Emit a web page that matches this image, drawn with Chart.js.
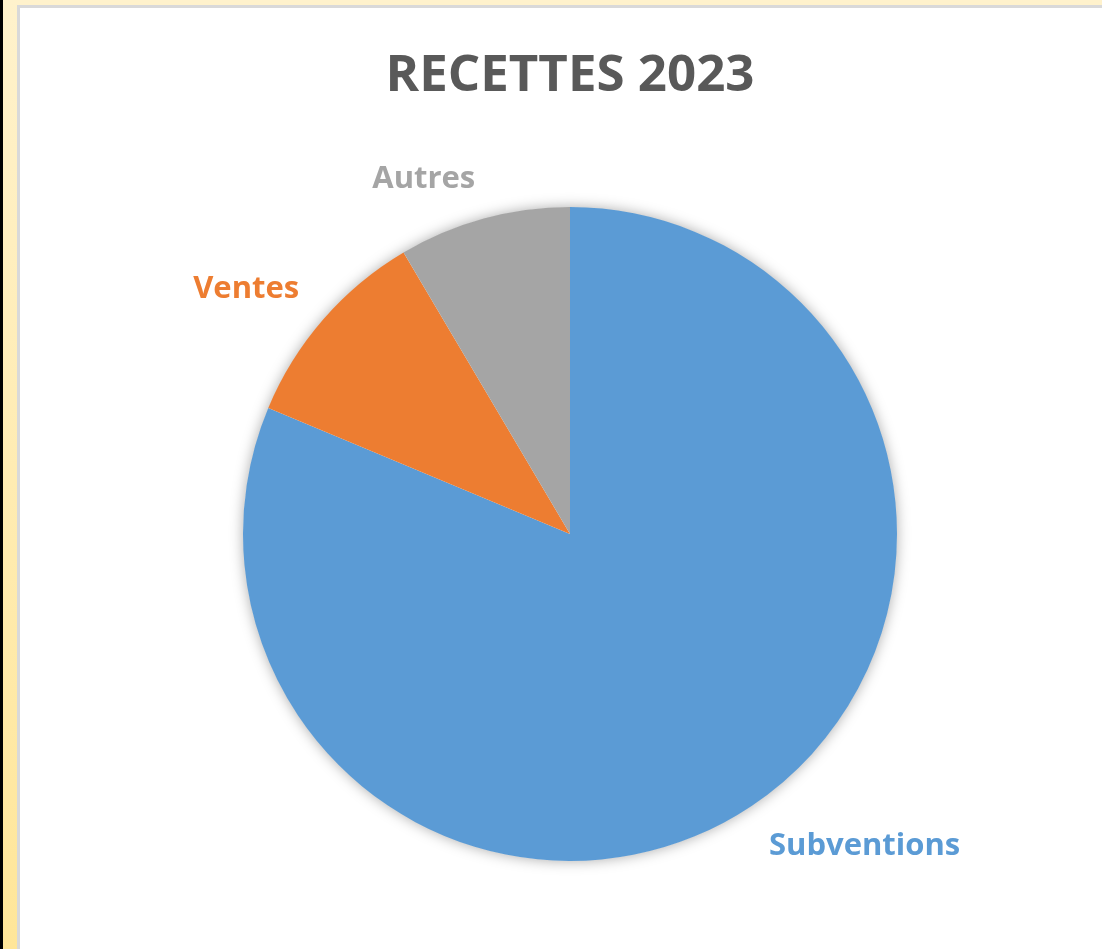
<!DOCTYPE html>
<html>
<head>
<meta charset="utf-8">
<script src="https://cdn.jsdelivr.net/npm/chart.js@4.4.0/dist/chart.umd.min.js"></script>
<style>
  html, body { margin: 0; padding: 0; width: 1102px; height: 949px; overflow: hidden; background: #ffffff; }
  #frame { position: absolute; left: 0; top: 0; width: 1102px; height: 949px; background: #FFF2CC; }
  #blackstrip { position: absolute; left: 0; top: 0; width: 3px; height: 949px; background: #000; }
  #yellowstrip { position: absolute; left: 3px; top: 0; width: 14px; height: 949px; background: linear-gradient(#FFF2CC, #FFE699); }
  #border { position: absolute; left: 17px; top: 5px; width: 1085px; height: 944px; background: #D9D9D9; }
  #box { position: absolute; left: 20px; top: 8px; width: 1082px; height: 941px; background: #ffffff; }
  canvas { display: block; }
</style>
</head>
<body>
<div id="frame"></div>
<div id="blackstrip"></div>
<div id="yellowstrip"></div>
<div id="border"></div>
<div id="box"><canvas id="c" width="1082" height="941"></canvas></div>
<script>
const chartTitle = "RECETTES 2023";
const categories = ["Subventions", "Ventes", "Autres"];
const values = [81.3, 10.2, 8.5];
const colors = ["#5B9BD5", "#ED7D31", "#A5A5A5"];

const LABEL_FONT = 31;

const shadowPlugin = {
  id: 'pieShadow',
  beforeDatasetsDraw(chart) {
    const arc = chart.getDatasetMeta(0).data[0];
    if (!arc) return;
    const ctx = chart.ctx;
    ctx.save();
    ctx.shadowColor = 'rgba(0,0,0,0.35)';
    ctx.shadowBlur = 14;
    ctx.shadowOffsetX = 0;
    ctx.shadowOffsetY = 0;
    ctx.beginPath();
    ctx.arc(arc.x, arc.y, arc.outerRadius - 0.5, 0, Math.PI * 2);
    ctx.fillStyle = '#ffffff';
    ctx.fill();
    ctx.restore();
  }
};

const outsideLabels = {
  id: 'outsideLabels',
  afterDatasetsDraw(chart) {
    const ctx = chart.ctx;
    const meta = chart.getDatasetMeta(0);
    ctx.save();
    ctx.font = 'bold ' + LABEL_FONT + 'px "Open Sans", sans-serif';
    ctx.textBaseline = 'alphabetic';
    meta.data.forEach((arc, i) => {
      const mid = (arc.startAngle + arc.endAngle) / 2;
      const rr = arc.outerRadius + 32;
      const cx = Math.cos(mid), sy = Math.sin(mid);
      const ax = arc.x + rr * cx;
      const ay = arc.y + rr * sy;
      ctx.textAlign = cx >= 0 ? 'left' : 'right';
      const y = sy >= 0 ? ay + LABEL_FONT * 0.72 : ay;
      ctx.fillStyle = colors[i];
      ctx.fillText(categories[i], ax, y);
    });
    ctx.restore();
  }
};

new Chart(document.getElementById('c'), {
  type: 'pie',
  data: {
    labels: categories,
    datasets: [{
      data: values,
      backgroundColor: colors,
      borderWidth: 0,
      hoverOffset: 0,
      offset: 0
    }]
  },
  options: {
    responsive: false,
    animation: false,
    events: [],
    layout: { padding: { left: 223, right: 205, top: 0, bottom: 88 } },
    plugins: {
      legend: { display: false },
      tooltip: { enabled: false },
      title: {
        display: true,
        text: chartTitle,
        color: '#595959',
        font: { family: '"Open Sans", sans-serif', size: 51, weight: 'bold', lineHeight: 1.2 },
        padding: { top: 38, bottom: 99.8 }
      }
    }
  },
  plugins: [shadowPlugin, outsideLabels]
});
</script>
</body>
</html>
